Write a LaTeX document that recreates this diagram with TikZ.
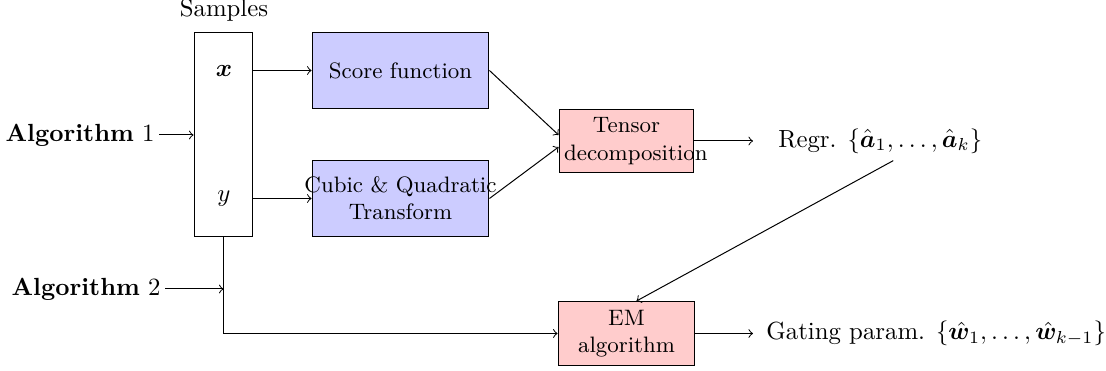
\documentclass[tikz,border=0pt]{standalone}
\usepackage{amsmath,bm}
\usetikzlibrary{calc}
\begin{document}
\begin{tikzpicture}[x=0.01417cm,y=-0.01417cm,
  box/.style={draw, rectangle, align=center, font=\small, inner sep=2.5pt},
  blu/.style={box, fill=blue!20, minimum width=2.508cm, minimum height=1.091cm, text width=2.2cm},
  redb/.style={box, fill=red!20, minimum height=0.907cm},
  arr/.style={->},
  algo/.style={anchor=east, inner xsep=1.6pt}]
\useasboundingbox (0,0) rectangle (1106,371);
% samples
\node[draw, minimum width=0.836cm, minimum height=2.905cm] (samples) at (223.5,134.5) {};
\node[anchor=base] (samplestitle) at (224,17) {Samples};
\node (xs) at (224,70.5) {$\bm{x}$};
\node (ys) at (224,198.5) {$y$};
% algorithms
\node[algo] (alg1) at (159,135) {\textbf{Algorithm} 1};
\node[algo] (alg2) at (165,289) {\textbf{Algorithm} 2};
% blue boxes
\node[blu] (score) at (400.5,70.5) {Score function};
\node[blu] (cubic) at (400.5,198.5) {\makebox[0pt]{Cubic \& Quadratic}\\Transform};
% red boxes
\node[redb, inner xsep=2pt, text width=1.77cm] (tensor) at (626.5,141) {Tensor\\\mbox{decomposition}};
\node[redb, minimum width=1.94cm, text width=1.6cm] (em) at (626.5,333.5) {EM\\algorithm};
% outputs
\node[anchor=west, inner xsep=10pt] (regr) at (753,141) {Regr. $\{\hat{\bm{a}}_1,\dots,\hat{\bm{a}}_k\}$};
\node[anchor=west, inner xsep=5.2pt] (gating) at (753,333.5) {Gating param. $\{\hat{\bm{w}}_1,\dots,\hat{\bm{w}}_{k-1}\}$};
% connectors
\draw[arr] (alg1.east) -- (alg1.east -| samples.west);
\draw[arr] (alg2.east) -- (alg2.east -| samples.south);
\draw[arr] (samples.south) |- (em.west);
\draw[arr] (samples.east |- score.west) -- (score.west);
\draw[arr] (samples.east |- cubic.west) -- (cubic.west);
\draw[arr] (score.east) -- ($(tensor.west)+(0,-6)$);
\draw[arr] (cubic.east) -- ($(tensor.west)+(0,6)$);
\draw[arr] (tensor.east) -- (regr.west);
\draw[arr] ($(regr.south)+(13,-1.5)$) -- ($(em.north)+(10,0)$);
\draw[arr] (em.east) -- (gating.west);
\end{tikzpicture}
\end{document}
